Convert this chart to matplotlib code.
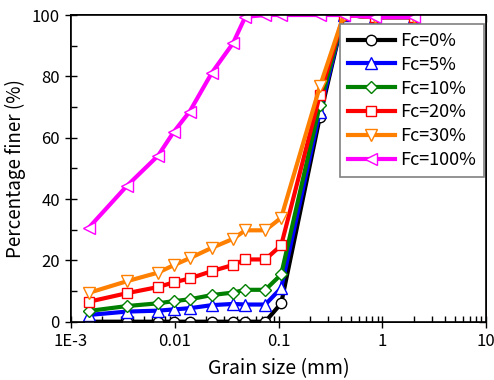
import numpy as np
import matplotlib
matplotlib.use("Agg")
import matplotlib.pyplot as plt

plt.rcParams['font.family'] = ['Noto Sans CJK JP', 'DejaVu Sans']

# sieve / hydrometer grain sizes (mm)
grain = [0.00148, 0.00346, 0.00689, 0.00973, 0.0139, 0.0228, 0.0364, 0.0478,
         0.0745, 0.106, 0.25, 0.425, 0.85, 2.0]

fc0 = [0, 0, 0, 0, 0, 0, 0, 0, 0, 6.0, 66.8, 100, 99.3, 99.3]
fc5 = [2.2, 3.3, 3.6, 4.0, 4.4, 5.4, 5.8, 5.6, 5.6, 11.0, 68.5, 100, 99.3, 99.3]
fc10 = [3.5, 5.1, 6.0, 6.7, 7.3, 8.7, 9.5, 10.4, 10.4, 15.4, 70.7, 100, 99.3, 99.3]
fc20 = [6.5, 9.3, 11.3, 12.8, 14.1, 16.5, 18.5, 20.3, 20.3, 24.9, 73.9, 100, 99.3, 99.3]
fc30 = [9.4, 13.2, 16.0, 18.4, 20.7, 24.1, 27.0, 29.8, 29.8, 33.9, 76.7, 100, 99.3, 99.3]
fc100 = [30.6, 44.3, 54.1, 61.8, 68.5, 81.2, 90.8, 99.4, 100, 100, 100, 100, 99.3, 99.3]

series = [fc0, fc5, fc10, fc20, fc30, fc100]
labels = ['Fc=0%', 'Fc=5%', 'Fc=10%', 'Fc=20%', 'Fc=30%', 'Fc=100%']
colors = ['black', '#0000ff', '#008000', '#ff0000', '#ff8000', '#ff00ff']
markers = ['o', '^', 'D', 's', 'v', '<']
msizes = [7.5, 8.5, 6.5, 7, 8.5, 8.5]

fig = plt.figure(figsize=(4.94, 3.8), dpi=100)
ax = fig.add_axes([0.1437, 0.1534, 0.8404, 0.8071])

for y, lab, c, m, ms in zip(series, labels, colors, markers, msizes):
    ax.plot(grain, y, color=c, lw=3, marker=m, ms=ms, mfc='white',
            mec=c, mew=1.0, label=lab)

ax.set_xscale('log')
ax.set_xlim(1e-3, 10)
ax.set_ylim(0, 100)
ax.set_xticks([1e-3, 1e-2, 0.1, 1, 10])
ax.set_xticklabels(['1E-3', '0.01', '0.1', '1', '10'])
ax.set_yticks([0, 20, 40, 60, 80, 100])
ax.set_yticks([10, 30, 50, 70, 90], minor=True)
ax.tick_params(which='major', direction='inout', length=9, width=1,
               labelsize=12, top=False, right=False)
ax.tick_params(which='minor', direction='in', length=4, width=1,
               top=False, right=False)
ax.tick_params(axis='x', which='minor', labelbottom=False)

# inward ticks on top and right
axt = ax.twiny()
axt.set_xscale('log')
axt.set_xlim(1e-3, 10)
axt.tick_params(which='major', direction='in', length=5, width=1, labeltop=False)
axt.tick_params(which='minor', direction='in', length=4, width=1, labeltop=False)
axr = ax.twinx()
axr.set_ylim(0, 100)
axr.set_yticks([0, 20, 40, 60, 80, 100])
axr.set_yticks([10, 30, 50, 70, 90], minor=True)
axr.tick_params(which='major', direction='in', length=5, width=1, labelright=False)
axr.tick_params(which='minor', direction='in', length=4, width=1, labelright=False)

for a in (ax, axt, axr):
    for s in a.spines.values():
        s.set_linewidth(1.2)

ax.set_xlabel('Grain size (mm)', fontsize=14, labelpad=6)
ax.set_ylabel('Percentage finer (%)', fontsize=13.5, labelpad=4)

leg = ax.legend(loc='upper right', bbox_to_anchor=(0.995, 0.971),
                borderaxespad=0, fontsize=13, handlelength=2.6,
                labelspacing=0.32, handletextpad=0.3, borderpad=0.45,
                fancybox=False, framealpha=1, edgecolor='#808080')
leg.get_frame().set_linewidth(1.2)
leg.set_zorder(10)
axr.set_zorder(-1)
axt.set_zorder(-1)

fig.savefig('out.png', dpi=100)
